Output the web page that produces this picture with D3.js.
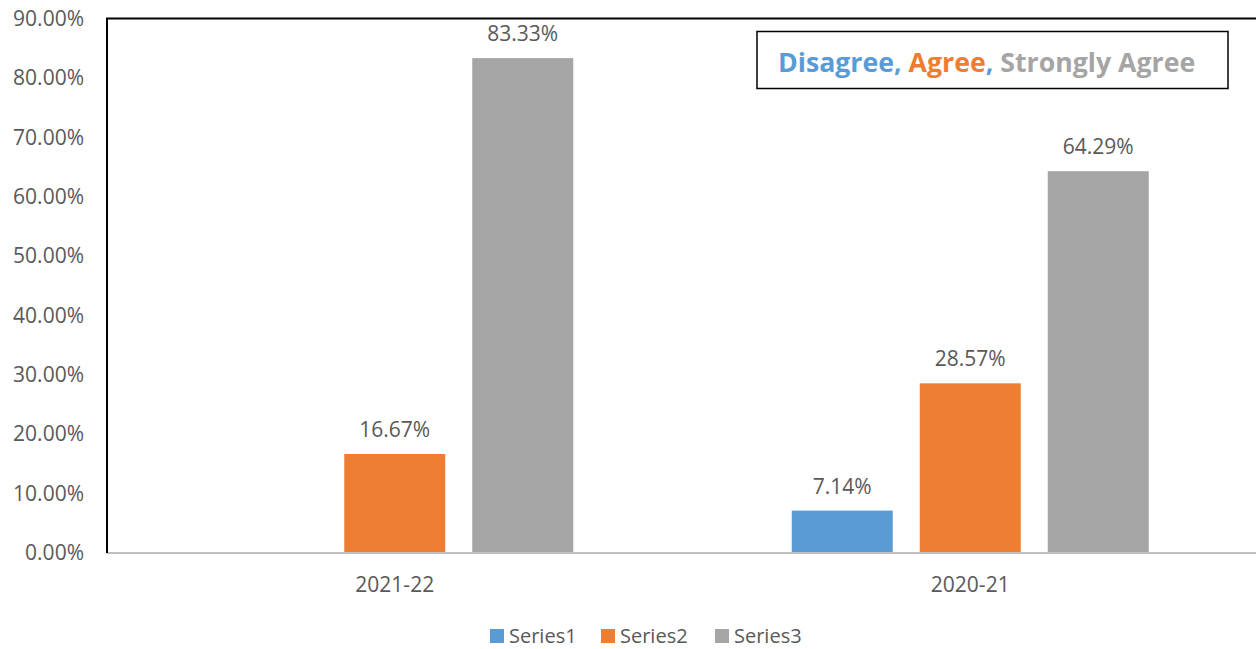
<!DOCTYPE html>
<html>
<head>
<meta charset="utf-8">
<script src="https://cdnjs.cloudflare.com/ajax/libs/d3/7.8.5/d3.min.js"></script>
<style>
  html, body { margin: 0; padding: 0; background: #fff; }
  svg { display: block; font-family: "Open Sans", "Noto Sans", sans-serif; }
</style>
</head>
<body>
<div id="chart"></div>
<script>
// data
const categories = ["2021-22", "2020-21"];
const seriesNames = ["Series1", "Series2", "Series3"];
const series1 = [null, 0.0714];
const series2 = [0.1667, 0.2857];
const series3 = [0.8333, 0.6429];
const yTicks = [0, 0.1, 0.2, 0.3, 0.4, 0.5, 0.6, 0.7, 0.8, 0.9];
const titleParts = [
  { text: "Disagree,", colour: "#5B9BD5" },
  { text: " Agree", colour: "#ED7D31" },
  { text: ",", colour: "#5B9BD5" },
  { text: " Strongly Agree", colour: "#A5A5A5" }
];

const chartConfig = {
  width: 1256,
  height: 649,
  plot: { left: 107, right: 1258, top: 18.5, bottom: 553 },
  colourScale: d3.scaleOrdinal().domain(seriesNames).range(["#5B9BD5", "#ED7D31", "#A5A5A5"]),
  textColour: "#595959",
  fontSize: 21
};

const allSeries = [series1, series2, series3];
let rows = categories.map((c, i) => ({
  category: c,
  values: seriesNames.map((s, j) => ({ series: s, value: allSeries[j][i] }))
}));

const svg = d3.select("#chart").append("svg")
  .attr("width", chartConfig.width)
  .attr("height", chartConfig.height);

const p = chartConfig.plot;

let x0 = d3.scaleBand()
  .domain(categories)
  .range([p.left, p.right])
  .padding(0);

let x1 = d3.scaleBand()
  .domain(seriesNames)
  .range([0, x0.bandwidth()])
  .paddingInner(0.211)
  .paddingOuter(0.8535);

let y = d3.scaleLinear()
  .domain([0, 0.9])
  .range([p.bottom, p.top]);

// y axis labels
let yAxis = svg.append("g")
  .attr("transform", `translate(${p.left}, 0)`)
  .call(d3.axisLeft(y).tickValues(yTicks).tickFormat(d3.format(".2%")).tickSize(0).tickPadding(23));

yAxis.select(".domain").remove();
yAxis.selectAll("text")
  .attr("font-family", "'Open Sans', sans-serif")
  .attr("font-size", chartConfig.fontSize + "px")
  .attr("fill", chartConfig.textColour);

// bars
let groups = svg.append("g").attr("class", "bars")
  .selectAll(".group")
  .data(rows)
  .enter()
  .append("g")
  .attr("class", "group")
  .attr("transform", d => `translate(${x0(d.category)}, 0)`);

groups.selectAll("rect")
  .data(d => d.values.filter(v => v.value != null))
  .enter()
  .append("rect")
  .attr("x", d => x1(d.series))
  .attr("y", d => y(d.value))
  .attr("width", x1.bandwidth())
  .attr("height", d => y(0) - y(d.value))
  .attr("fill", d => chartConfig.colourScale(d.series));

groups.selectAll(".valueLabel")
  .data(d => d.values.filter(v => v.value != null))
  .enter()
  .append("text")
  .attr("class", "valueLabel")
  .attr("x", d => x1(d.series) + x1.bandwidth() / 2)
  .attr("y", d => y(d.value) - 17)
  .attr("text-anchor", "middle")
  .attr("font-size", chartConfig.fontSize + "px")
  .attr("fill", chartConfig.textColour)
  .text(d => d3.format(".2%")(d.value));

// frame lines
svg.append("line")
  .attr("x1", p.left).attr("x2", chartConfig.width)
  .attr("y1", y(0)).attr("y2", y(0))
  .attr("stroke", "#BFBFBF").attr("stroke-width", 2);

svg.append("line")
  .attr("x1", p.left - 1).attr("x2", chartConfig.width)
  .attr("y1", p.top).attr("y2", p.top)
  .attr("stroke", "#000").attr("stroke-width", 2);

svg.append("line")
  .attr("x1", p.left).attr("x2", p.left)
  .attr("y1", p.top).attr("y2", y(0))
  .attr("stroke", "#000").attr("stroke-width", 2);

// category labels
svg.append("g").selectAll(".catLabel")
  .data(categories)
  .enter()
  .append("text")
  .attr("class", "catLabel")
  .attr("x", d => x0(d) + x0.bandwidth() / 2)
  .attr("y", 592)
  .attr("text-anchor", "middle")
  .attr("font-size", chartConfig.fontSize + "px")
  .attr("fill", chartConfig.textColour)
  .text(d => d);

// title box
let titleBox = svg.append("g").attr("class", "titleBox");
titleBox.append("rect")
  .attr("x", 757).attr("y", 31.5)
  .attr("width", 471).attr("height", 57)
  .attr("fill", "#fff")
  .attr("stroke", "#000")
  .attr("stroke-width", 1.5);

titleBox.append("text")
  .attr("x", 778)
  .attr("y", 72)
  .attr("font-size", "26.7px")
  .attr("font-weight", "bold")
  .selectAll("tspan")
  .data(titleParts)
  .enter()
  .append("tspan")
  .attr("fill", d => d.colour)
  .style("white-space", "pre")
  .text(d => d.text);

// legend
const legendX = [490, 601, 715];
let legend = svg.append("g").attr("class", "legend");
let legendItem = legend.selectAll(".legendItem")
  .data(seriesNames)
  .enter()
  .append("g")
  .attr("class", "legendItem")
  .attr("transform", (d, i) => `translate(${legendX[i]}, 629)`);

legendItem.append("rect")
  .attr("width", 14).attr("height", 14)
  .attr("fill", d => chartConfig.colourScale(d));

legendItem.append("text")
  .attr("x", 19)
  .attr("y", 14)
  .attr("font-size", "20px")
  .attr("fill", chartConfig.textColour)
  .text(d => d);
</script>
</body>
</html>
